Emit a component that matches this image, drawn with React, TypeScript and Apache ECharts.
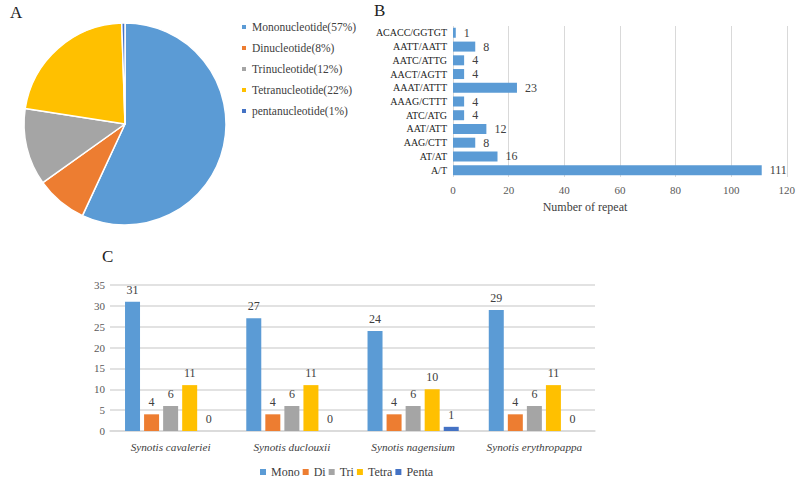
import React, { useEffect, useRef } from "react";
import * as echarts from "echarts";

const pieNames = [
  "Mononucleotide(57%)",
  "Dinucleotide(8%)",
  "Trinucleotide(12%)",
  "Tetranucleotide(22%)",
  "pentanucleotide(1%)",
];
const pieValues = [111, 16, 24, 43, 1];

const motifs = [
  "A/T",
  "AT/AT",
  "AAG/CTT",
  "AAT/ATT",
  "ATC/ATG",
  "AAAG/CTTT",
  "AAAT/ATTT",
  "AACT/AGTT",
  "AATC/ATTG",
  "AATT/AATT",
  "ACACC/GGTGT",
];
const motifCounts = [111, 16, 8, 12, 4, 4, 23, 4, 4, 8, 1];

const species = [
  "Synotis cavaleriei",
  "Synotis duclouxii",
  "Synotis nagensium",
  "Synotis erythropappa",
];
const typeNames = ["Mono", "Di", "Tri", "Tetra", "Penta"];
const mono = [31, 27, 24, 29];
const di = [4, 4, 4, 4];
const tri = [6, 6, 6, 6];
const tetra = [11, 11, 10, 11];
const penta = [0, 0, 1, 0];

const colors = ["#5B9BD5", "#ED7D31", "#A5A5A5", "#FFC000", "#4472C4"];
const FONT = "'Liberation Serif', 'Times New Roman', serif";

export default function App() {
  const ref = useRef<HTMLDivElement>(null);
  useEffect(() => {
    if (!ref.current) return;
    const chart = echarts.init(ref.current, null, { renderer: "svg" });
    const typeSeries = [mono, di, tri, tetra, penta];
    chart.setOption({
      animation: false,
      textStyle: { fontFamily: FONT },
      color: colors,
      graphic: [
        { type: "text", left: 10, top: 4, style: { text: "A", font: `17px ${FONT}`, fill: "#222" } },
        { type: "text", left: 374, top: 2, style: { text: "B", font: `17px ${FONT}`, fill: "#222" } },
        { type: "text", left: 102, top: 248, style: { text: "C", font: `17px ${FONT}`, fill: "#222" } },
        {
          type: "text",
          x: 585,
          y: 207,
          style: {
            text: "Number of repeat",
            font: `12px ${FONT}`,
            fill: "#404040",
            textAlign: "center",
            textVerticalAlign: "middle",
          },
        },
      ],
      legend: [
        {
          data: pieNames,
          orient: "vertical",
          left: 235,
          top: 16,
          icon: "rect",
          itemWidth: 6,
          itemHeight: 6,
          itemGap: 9,
          textStyle: { fontFamily: FONT, fontSize: 11.5, color: "#404040" },
          selectedMode: false,
        },
        {
          data: typeNames,
          orient: "horizontal",
          left: 255,
          top: 461,
          icon: "rect",
          itemWidth: 6,
          itemHeight: 6,
          itemGap: 3,
          textStyle: { fontFamily: FONT, fontSize: 12, color: "#404040" },
          selectedMode: false,
        },
      ],
      grid: [
        { left: 453, right: 9, top: 26, bottom: 302 },
        { left: 110, right: 203, top: 285, bottom: 48 },
      ],
      xAxis: [
        {
          gridIndex: 0,
          type: "value",
          min: 0,
          max: 120,
          interval: 20,
          axisLine: { show: false },
          axisTick: { show: false },
          axisLabel: { fontFamily: FONT, fontSize: 11, color: "#595959", margin: 7 },
          splitLine: { lineStyle: { color: "#D9D9D9", width: 1 } },
        },
        {
          gridIndex: 1,
          type: "category",
          data: species,
          axisLine: { lineStyle: { color: "#D9D9D9", width: 1.5 } },
          axisTick: { show: false },
          axisLabel: {
            interval: 0,
            fontFamily: FONT,
            fontSize: 11.2,
            fontStyle: "italic",
            color: "#404040",
            margin: 10,
          },
        },
      ],
      yAxis: [
        {
          gridIndex: 0,
          type: "category",
          data: motifs,
          axisLine: { show: false },
          axisTick: { show: false },
          axisLabel: { interval: 0, fontFamily: FONT, fontSize: 10, color: "#222", margin: 6 },
        },
        {
          gridIndex: 1,
          type: "value",
          min: 0,
          max: 35,
          interval: 5,
          axisLine: { show: false },
          axisTick: { show: false },
          axisLabel: { fontFamily: FONT, fontSize: 11, color: "#595959", margin: 5 },
          splitLine: { lineStyle: { color: "#D9D9D9", width: 1.5 } },
        },
      ],
      series: [
        {
          type: "pie",
          center: [125, 124],
          radius: 101,
          startAngle: 90,
          clockwise: true,
          label: { show: false },
          labelLine: { show: false },
          itemStyle: { borderColor: "#fff", borderWidth: 1.5 },
          data: pieNames.map((n, i) => ({ name: n, value: pieValues[i], itemStyle: { color: colors[i] } })),
        },
        {
          type: "bar",
          name: "repeat",
          xAxisIndex: 0,
          yAxisIndex: 0,
          barWidth: 10,
          data: motifCounts,
          itemStyle: { color: "#5B9BD5" },
          label: {
            show: true,
            position: "right",
            distance: 8,
            fontFamily: FONT,
            fontSize: 12,
            color: "#404040",
          },
        },
        ...typeNames.map((n, i) => ({
          type: "bar",
          name: n,
          xAxisIndex: 1,
          yAxisIndex: 1,
          barWidth: 15,
          barGap: "27%",
          data: typeSeries[i],
          itemStyle: { color: colors[i] },
          label: {
            show: true,
            position: "top",
            distance: 6,
            fontFamily: FONT,
            fontSize: 12,
            color: "#404040",
          },
        })),
      ],
    });
    return () => chart.dispose();
  }, []);
  return (
    <div
      ref={ref}
      style={{ position: "fixed", left: 0, top: 0, width: 798, height: 479, background: "#fff" }}
    />
  );
}
